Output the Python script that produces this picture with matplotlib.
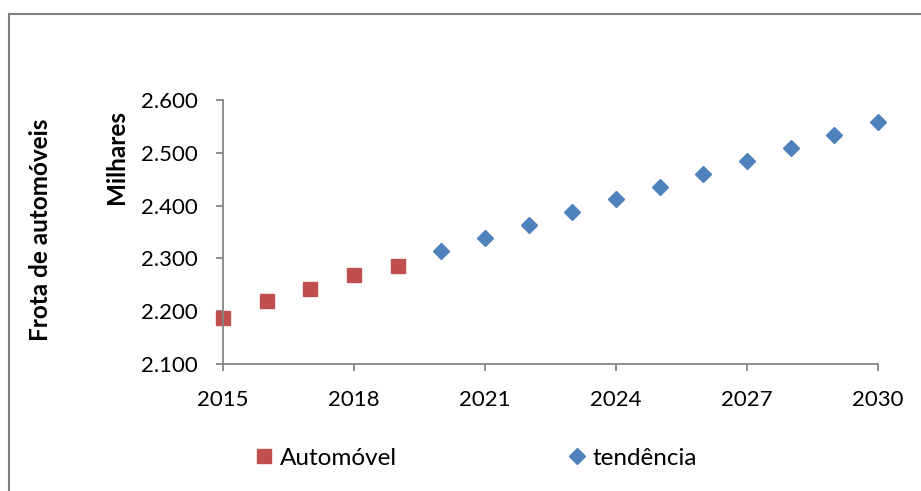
import matplotlib.pyplot as plt
from matplotlib.lines import Line2D
from matplotlib.ticker import FuncFormatter

# frota de automoveis (milhares)
anos_auto = [2015, 2016, 2017, 2018, 2019]
frota_auto = [2187, 2220, 2242, 2268, 2285]
anos_tend = [2020, 2021, 2022, 2023, 2024, 2025, 2026, 2027, 2028, 2029, 2030]
frota_tend = [2314, 2338, 2363, 2387, 2412, 2436, 2460, 2485, 2509, 2534, 2558]
x_ticks = [2015, 2018, 2021, 2024, 2027, 2030]
y_ticks = [2100, 2200, 2300, 2400, 2500, 2600]

plt.rcParams['font.family'] = ['Lato', 'DejaVu Sans']
W, H = 921, 491
fig = plt.figure(figsize=(W / 100, H / 100), dpi=100)
ax = fig.add_axes([223 / W, 1 - 364 / H, (878 - 223) / W, (364 - 100) / H])

ax.plot(anos_auto, frota_auto, ls='none', marker='s', ms=10.5, color='#C0504D',
        mec='#C0504D', label='Automóvel', clip_on=False)
ax.plot(anos_tend, frota_tend, ls='none', marker='D', ms=8.5, color='#4F81BD',
        mec='#4F81BD', label='tendência', clip_on=False)

ax.set_xlim(2015, 2030)
ax.set_ylim(2100, 2600)
ax.set_xticks(x_ticks)
ax.set_yticks(y_ticks)
ax.yaxis.set_major_formatter(FuncFormatter(lambda v, p: f"{v:,.0f}".replace(",", ".")))

for s in ['top', 'right']:
    ax.spines[s].set_visible(False)
for s in ['left', 'bottom']:
    ax.spines[s].set_color('#868686')
    ax.spines[s].set_linewidth(1.3)
ax.tick_params(axis='both', colors='#868686', labelcolor='black', width=1.3,
               length=5, labelsize=16)
ax.tick_params(axis='x', pad=14)
ax.tick_params(axis='y', pad=13)

fig.text(116 / W, 1 - 157 / H, 'Milhares', rotation=90, ha='center', va='center',
         fontsize=17.5, fontweight='bold')
fig.text(41 / W, 1 - 230 / H, 'Frota de automóveis', rotation=90, ha='center',
         va='center', fontsize=17.5, fontweight='bold')

fig.legend(loc='center left', bbox_to_anchor=(254 / W, 1 - 458 / H), ncol=2,
           frameon=False, fontsize=17.5, handlelength=0.8, handletextpad=0.25,
           columnspacing=7.0, borderpad=0, borderaxespad=0)

# chart area border
fig.add_artist(Line2D([9 / W, 9 / W], [0, 1 - 14 / H], transform=fig.transFigure,
                      color='#808080', lw=1.5))
fig.add_artist(Line2D([9 / W, 1], [1 - 14 / H, 1 - 14 / H], transform=fig.transFigure,
                      color='#808080', lw=1.5))

fig.savefig('out.png', dpi=100)
